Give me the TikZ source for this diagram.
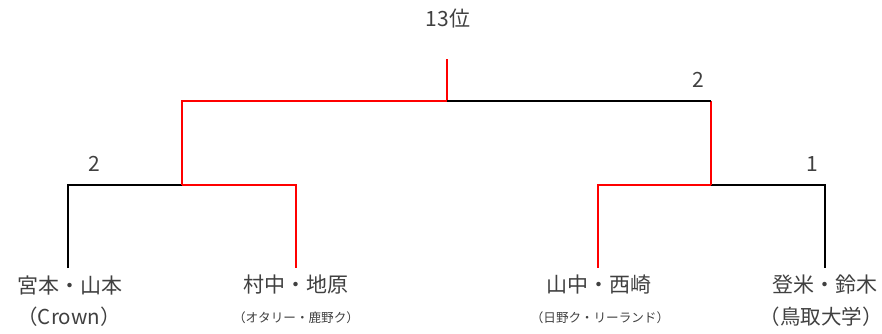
\documentclass[tikz,border=0pt]{standalone}
\usepackage{fontspec}
\setmainfont{Noto Sans CJK JP}
\usetikzlibrary{positioning}

\begin{document}
\begin{tikzpicture}[x=1pt,y=-1pt]
    \definecolor{textgray}{HTML}{404040}
    \tikzset{%
        win/.style={draw=red,line width=2pt},% winning path
        lose/.style={draw=black,line width=2pt},%
        pair/.style={inner sep=0pt,outer sep=0pt,text=textgray,
                font=\fontsize{21}{24}\selectfont},%
        club/.style={pair,font=\fontsize{20.5}{24}\selectfont},%
        smallclub/.style={pair,font=\fontsize{12.6}{14}\selectfont},%
        score/.style={pair,font=\fontsize{21}{24}\selectfont}%
    }
    %% some definitions

    \def\yLeaf{268} % bottom of the bracket
    \def\yOne{185} % first round
    \def\yTwo{101} % final
    \def\yTop{59} % top of the winner line

    \useasboundingbox (0,0) rectangle (882,333);

    %% pairs

    \node[pair] (miyamoto) at (70,285) {宮本・山本};
    \node[club] (crown) at (69,317) {（Crown）};
    \node[pair] (muranaka) at (296,285) {村中・地原};
    \node[smallclub] (otari) at (296,318) {（オタリー・鹿野ク）};
    \node[pair] (yamanaka) at (599,285) {山中・西崎};
    \node[smallclub] (hino) at (600,318) {（日野ク・リーランド）};
    \node[pair] (tome) at (825,285) {登米・鈴木};
    \node[club] (tottori) at (825,317) {\hspace{-8pt}（鳥取大学）\hspace{-8pt}};

    %% bracket points

    \coordinate (miyamoto top) at (68,\yLeaf);
    \coordinate (muranaka top) at (296,\yLeaf);
    \coordinate (yamanaka top) at (598,\yLeaf);
    \coordinate (tome top) at (825,\yLeaf);
    \coordinate (left) at (182,\yOne);
    \coordinate (right) at (711,\yOne);
    \coordinate (final) at (447,\yTwo);
    \coordinate (winner) at (447,\yTop);

    %% draw the bracket

    \draw[lose] (miyamoto top) |- (left);
    \draw[win] (left) -| (muranaka top);
    \draw[lose] (right) -| (tome top);
    \draw[win] (right) -| (yamanaka top);
    \draw[win] (left) |- (final) -- (winner);
    \draw[win] (final -| right) -- (right);
    \draw[lose] (final) -- (final -| right);

    %% scores and place

    \node[score] (score left) at (94,164) {2};
    \node[score] (score right) at (698,80) {2};
    \node[score] (score tome) at (812,164) {1};
    \node[score] (place) at (448,19) {13位};
\end{tikzpicture}
\end{document}
